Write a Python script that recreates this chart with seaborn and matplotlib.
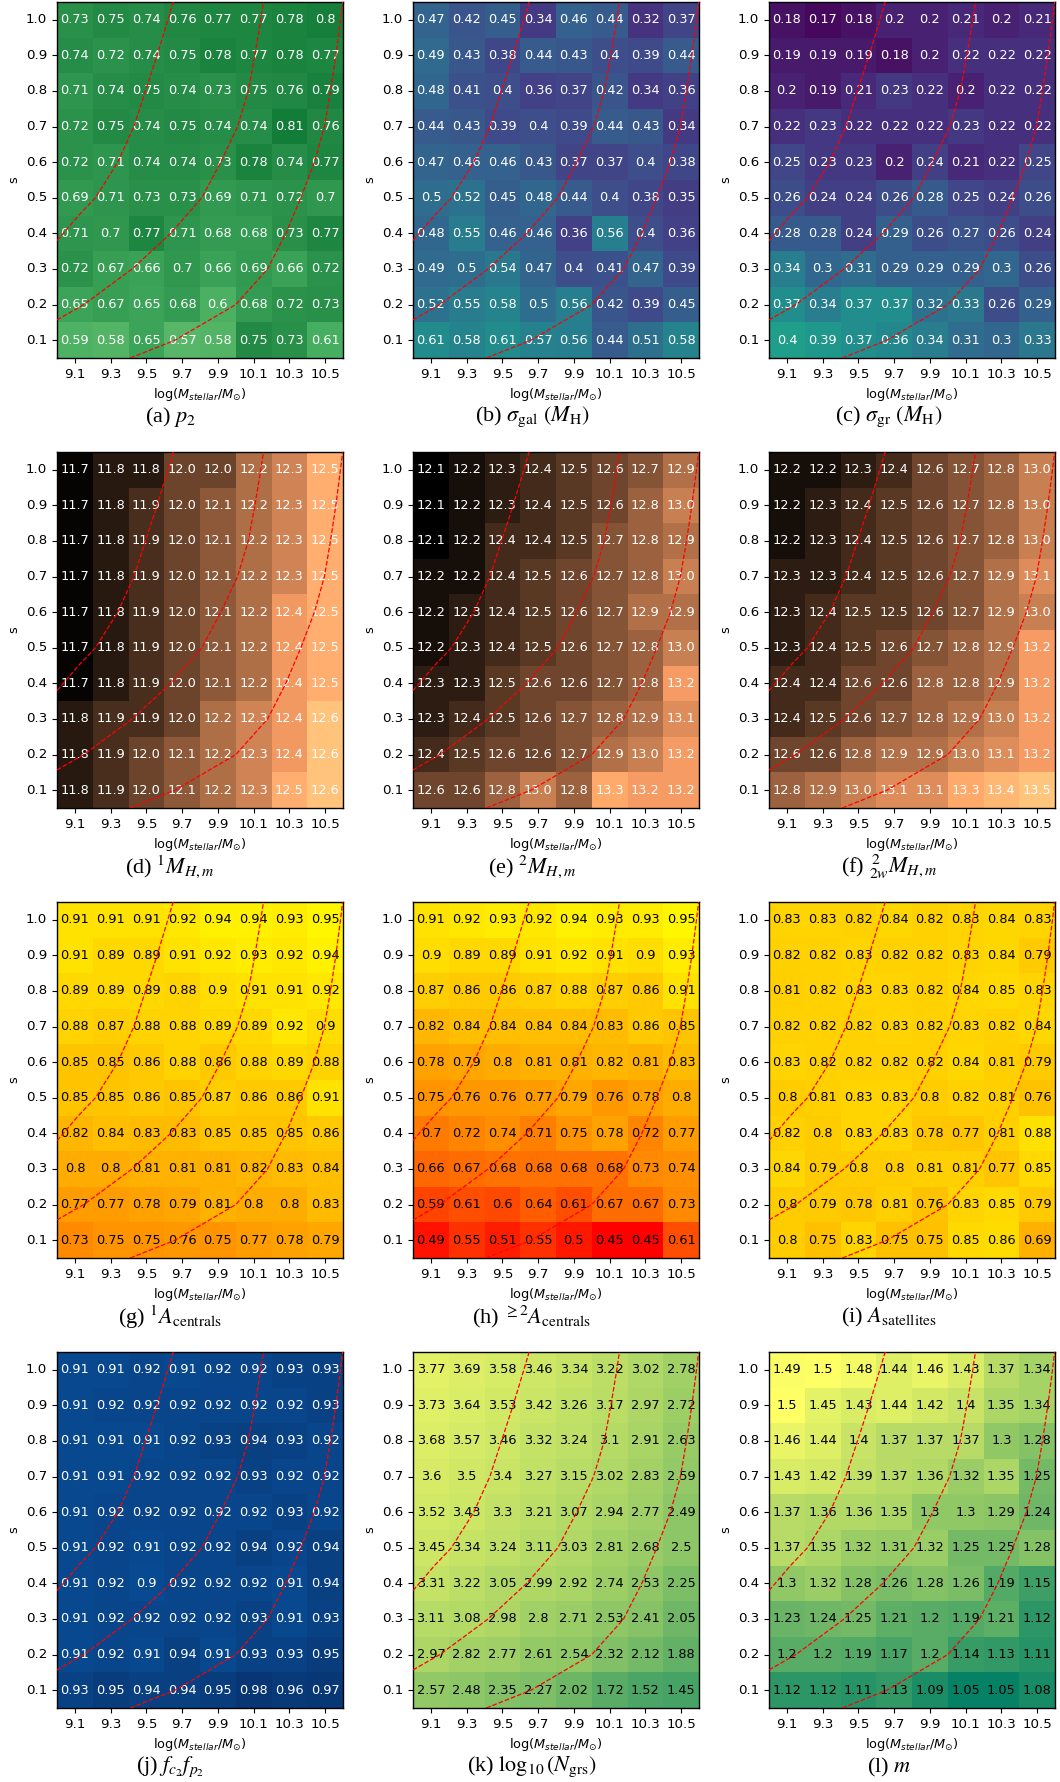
import matplotlib
matplotlib.use('Agg')
import matplotlib.pyplot as plt
import seaborn as sns
import pandas as pd
import numpy as np

mass_labels = ['9.1', '9.3', '9.5', '9.7', '9.9', '10.1', '10.3', '10.5']
s_labels = ['1.0', '0.9', '0.8', '0.7', '0.6', '0.5', '0.4', '0.3', '0.2', '0.1']

# rows go from s=1.0 (top) down to s=0.1
p2 = [
    [0.73, 0.75, 0.74, 0.76, 0.77, 0.77, 0.78, 0.8],
    [0.74, 0.72, 0.74, 0.75, 0.78, 0.77, 0.78, 0.77],
    [0.71, 0.74, 0.75, 0.74, 0.73, 0.75, 0.76, 0.79],
    [0.72, 0.75, 0.74, 0.75, 0.74, 0.74, 0.81, 0.76],
    [0.72, 0.71, 0.74, 0.74, 0.73, 0.78, 0.74, 0.77],
    [0.69, 0.71, 0.73, 0.73, 0.69, 0.71, 0.72, 0.7],
    [0.71, 0.7, 0.77, 0.71, 0.68, 0.68, 0.73, 0.77],
    [0.72, 0.67, 0.66, 0.7, 0.66, 0.69, 0.66, 0.72],
    [0.65, 0.67, 0.65, 0.68, 0.6, 0.68, 0.72, 0.73],
    [0.59, 0.58, 0.65, 0.57, 0.58, 0.75, 0.73, 0.61],
]
sigma_gal = [
    [0.47, 0.42, 0.45, 0.34, 0.46, 0.44, 0.32, 0.37],
    [0.49, 0.43, 0.38, 0.44, 0.43, 0.4, 0.39, 0.44],
    [0.48, 0.41, 0.4, 0.36, 0.37, 0.42, 0.34, 0.36],
    [0.44, 0.43, 0.39, 0.4, 0.39, 0.44, 0.43, 0.34],
    [0.47, 0.46, 0.46, 0.43, 0.37, 0.37, 0.4, 0.38],
    [0.5, 0.52, 0.45, 0.48, 0.44, 0.4, 0.38, 0.35],
    [0.48, 0.55, 0.46, 0.46, 0.36, 0.56, 0.4, 0.36],
    [0.49, 0.5, 0.54, 0.47, 0.4, 0.41, 0.47, 0.39],
    [0.52, 0.55, 0.58, 0.5, 0.56, 0.42, 0.39, 0.45],
    [0.61, 0.58, 0.61, 0.57, 0.56, 0.44, 0.51, 0.58],
]
sigma_gr = [
    [0.18, 0.17, 0.18, 0.2, 0.2, 0.21, 0.2, 0.21],
    [0.19, 0.19, 0.19, 0.18, 0.2, 0.22, 0.22, 0.22],
    [0.2, 0.19, 0.21, 0.23, 0.22, 0.2, 0.22, 0.22],
    [0.22, 0.23, 0.22, 0.22, 0.22, 0.23, 0.22, 0.22],
    [0.25, 0.23, 0.23, 0.2, 0.24, 0.21, 0.22, 0.25],
    [0.26, 0.24, 0.24, 0.26, 0.28, 0.25, 0.24, 0.26],
    [0.28, 0.28, 0.24, 0.29, 0.26, 0.27, 0.26, 0.24],
    [0.34, 0.3, 0.31, 0.29, 0.29, 0.29, 0.3, 0.26],
    [0.37, 0.34, 0.37, 0.37, 0.32, 0.33, 0.26, 0.29],
    [0.4, 0.39, 0.37, 0.36, 0.34, 0.31, 0.3, 0.33],
]
mh_1 = [
    [11.7, 11.8, 11.8, 12.0, 12.0, 12.2, 12.3, 12.5],
    [11.7, 11.8, 11.9, 12.0, 12.1, 12.2, 12.3, 12.5],
    [11.7, 11.8, 11.9, 12.0, 12.1, 12.2, 12.3, 12.5],
    [11.7, 11.8, 11.9, 12.0, 12.1, 12.2, 12.3, 12.5],
    [11.7, 11.8, 11.9, 12.0, 12.1, 12.2, 12.4, 12.5],
    [11.7, 11.8, 11.9, 12.0, 12.1, 12.2, 12.4, 12.5],
    [11.7, 11.8, 11.9, 12.0, 12.1, 12.2, 12.4, 12.5],
    [11.8, 11.9, 11.9, 12.0, 12.2, 12.3, 12.4, 12.6],
    [11.8, 11.9, 12.0, 12.1, 12.2, 12.3, 12.4, 12.6],
    [11.8, 11.9, 12.0, 12.1, 12.2, 12.3, 12.5, 12.6],
]
mh_2 = [
    [12.1, 12.2, 12.3, 12.4, 12.5, 12.6, 12.7, 12.9],
    [12.1, 12.2, 12.3, 12.4, 12.5, 12.6, 12.8, 13.0],
    [12.1, 12.2, 12.4, 12.4, 12.5, 12.7, 12.8, 12.9],
    [12.2, 12.2, 12.4, 12.5, 12.6, 12.7, 12.8, 13.0],
    [12.2, 12.3, 12.4, 12.5, 12.6, 12.7, 12.9, 12.9],
    [12.2, 12.3, 12.4, 12.5, 12.6, 12.7, 12.8, 13.0],
    [12.3, 12.3, 12.5, 12.6, 12.6, 12.7, 12.8, 13.2],
    [12.3, 12.4, 12.5, 12.6, 12.7, 12.8, 12.9, 13.1],
    [12.4, 12.5, 12.6, 12.6, 12.7, 12.9, 13.0, 13.2],
    [12.6, 12.6, 12.8, 13.0, 12.8, 13.3, 13.2, 13.2],
]
mh_2w = [
    [12.2, 12.2, 12.3, 12.4, 12.6, 12.7, 12.8, 13.0],
    [12.2, 12.3, 12.4, 12.5, 12.6, 12.7, 12.8, 13.0],
    [12.2, 12.3, 12.4, 12.5, 12.6, 12.7, 12.8, 13.0],
    [12.3, 12.3, 12.4, 12.5, 12.6, 12.7, 12.9, 13.1],
    [12.3, 12.4, 12.5, 12.5, 12.6, 12.7, 12.9, 13.0],
    [12.3, 12.4, 12.5, 12.6, 12.7, 12.8, 12.9, 13.2],
    [12.4, 12.4, 12.6, 12.6, 12.8, 12.8, 12.9, 13.2],
    [12.4, 12.5, 12.6, 12.7, 12.8, 12.9, 13.0, 13.2],
    [12.6, 12.6, 12.8, 12.9, 12.9, 13.0, 13.1, 13.2],
    [12.8, 12.9, 13.0, 13.1, 13.1, 13.3, 13.4, 13.5],
]
a_cen_1 = [
    [0.91, 0.91, 0.91, 0.92, 0.94, 0.94, 0.93, 0.95],
    [0.91, 0.89, 0.89, 0.91, 0.92, 0.93, 0.92, 0.94],
    [0.89, 0.89, 0.89, 0.88, 0.9, 0.91, 0.91, 0.92],
    [0.88, 0.87, 0.88, 0.88, 0.89, 0.89, 0.92, 0.9],
    [0.85, 0.85, 0.86, 0.88, 0.86, 0.88, 0.89, 0.88],
    [0.85, 0.85, 0.86, 0.85, 0.87, 0.86, 0.86, 0.91],
    [0.82, 0.84, 0.83, 0.83, 0.85, 0.85, 0.85, 0.86],
    [0.8, 0.8, 0.81, 0.81, 0.81, 0.82, 0.83, 0.84],
    [0.77, 0.77, 0.78, 0.79, 0.81, 0.8, 0.8, 0.83],
    [0.73, 0.75, 0.75, 0.76, 0.75, 0.77, 0.78, 0.79],
]
a_cen_2 = [
    [0.91, 0.92, 0.93, 0.92, 0.94, 0.93, 0.93, 0.95],
    [0.9, 0.89, 0.89, 0.91, 0.92, 0.91, 0.9, 0.93],
    [0.87, 0.86, 0.86, 0.87, 0.88, 0.87, 0.86, 0.91],
    [0.82, 0.84, 0.84, 0.84, 0.84, 0.83, 0.86, 0.85],
    [0.78, 0.79, 0.8, 0.81, 0.81, 0.82, 0.81, 0.83],
    [0.75, 0.76, 0.76, 0.77, 0.79, 0.76, 0.78, 0.8],
    [0.7, 0.72, 0.74, 0.71, 0.75, 0.78, 0.72, 0.77],
    [0.66, 0.67, 0.68, 0.68, 0.68, 0.68, 0.73, 0.74],
    [0.59, 0.61, 0.6, 0.64, 0.61, 0.67, 0.67, 0.73],
    [0.49, 0.55, 0.51, 0.55, 0.5, 0.45, 0.45, 0.61],
]
a_sat = [
    [0.83, 0.83, 0.82, 0.84, 0.82, 0.83, 0.84, 0.83],
    [0.82, 0.82, 0.83, 0.82, 0.82, 0.83, 0.84, 0.79],
    [0.81, 0.82, 0.83, 0.83, 0.82, 0.84, 0.85, 0.83],
    [0.82, 0.82, 0.82, 0.83, 0.82, 0.83, 0.82, 0.84],
    [0.83, 0.82, 0.82, 0.82, 0.82, 0.84, 0.81, 0.79],
    [0.8, 0.81, 0.83, 0.83, 0.8, 0.82, 0.81, 0.76],
    [0.82, 0.8, 0.83, 0.83, 0.78, 0.77, 0.81, 0.88],
    [0.84, 0.79, 0.8, 0.8, 0.81, 0.81, 0.77, 0.85],
    [0.8, 0.79, 0.78, 0.81, 0.76, 0.83, 0.85, 0.79],
    [0.8, 0.75, 0.83, 0.75, 0.75, 0.85, 0.86, 0.69],
]
fc_fp = [
    [0.91, 0.91, 0.92, 0.91, 0.92, 0.92, 0.93, 0.93],
    [0.91, 0.92, 0.92, 0.92, 0.92, 0.92, 0.92, 0.93],
    [0.91, 0.91, 0.91, 0.92, 0.93, 0.94, 0.93, 0.92],
    [0.91, 0.91, 0.92, 0.92, 0.92, 0.93, 0.92, 0.92],
    [0.91, 0.92, 0.92, 0.92, 0.92, 0.92, 0.93, 0.92],
    [0.91, 0.92, 0.91, 0.92, 0.92, 0.94, 0.92, 0.94],
    [0.91, 0.92, 0.9, 0.92, 0.92, 0.92, 0.91, 0.94],
    [0.91, 0.92, 0.92, 0.92, 0.92, 0.93, 0.91, 0.93],
    [0.91, 0.92, 0.91, 0.94, 0.91, 0.93, 0.93, 0.95],
    [0.93, 0.95, 0.94, 0.94, 0.95, 0.98, 0.96, 0.97],
]
log_ngrs = [
    [3.77, 3.69, 3.58, 3.46, 3.34, 3.22, 3.02, 2.78],
    [3.73, 3.64, 3.53, 3.42, 3.26, 3.17, 2.97, 2.72],
    [3.68, 3.57, 3.46, 3.32, 3.24, 3.1, 2.91, 2.63],
    [3.6, 3.5, 3.4, 3.27, 3.15, 3.02, 2.83, 2.59],
    [3.52, 3.43, 3.3, 3.21, 3.07, 2.94, 2.77, 2.49],
    [3.45, 3.34, 3.24, 3.11, 3.03, 2.81, 2.68, 2.5],
    [3.31, 3.22, 3.05, 2.99, 2.92, 2.74, 2.53, 2.25],
    [3.11, 3.08, 2.98, 2.8, 2.71, 2.53, 2.41, 2.05],
    [2.97, 2.82, 2.77, 2.61, 2.54, 2.32, 2.12, 1.88],
    [2.57, 2.48, 2.35, 2.27, 2.02, 1.72, 1.52, 1.45],
]
m_vals = [
    [1.49, 1.5, 1.48, 1.44, 1.46, 1.43, 1.37, 1.34],
    [1.5, 1.45, 1.43, 1.44, 1.42, 1.4, 1.35, 1.34],
    [1.46, 1.44, 1.4, 1.37, 1.37, 1.37, 1.3, 1.28],
    [1.43, 1.42, 1.39, 1.37, 1.36, 1.32, 1.35, 1.25],
    [1.37, 1.36, 1.36, 1.35, 1.3, 1.3, 1.29, 1.24],
    [1.37, 1.35, 1.32, 1.31, 1.32, 1.25, 1.25, 1.28],
    [1.3, 1.32, 1.28, 1.26, 1.28, 1.26, 1.19, 1.15],
    [1.23, 1.24, 1.25, 1.21, 1.2, 1.19, 1.21, 1.12],
    [1.2, 1.2, 1.19, 1.17, 1.2, 1.14, 1.13, 1.11],
    [1.12, 1.12, 1.11, 1.13, 1.09, 1.05, 1.05, 1.08],
]

# red dashed curves as (log M, s)
curve1_m = [9.0, 9.035, 9.12, 9.215, 9.34, 9.43, 9.495, 9.56, 9.62, 9.65]
curve1_s = [0.38, 0.40, 0.45, 0.50, 0.60, 0.70, 0.80, 0.90, 1.00, 1.05]
curve2_m = [9.0, 9.15, 9.42, 9.636, 9.81, 9.916, 10.01, 10.07, 10.107, 10.14, 10.155]
curve2_s = [0.157, 0.20, 0.30, 0.40, 0.50, 0.60, 0.70, 0.80, 0.90, 1.00, 1.05]
curve3_m = [9.41, 9.66, 10.0, 10.178, 10.28, 10.364, 10.44, 10.496, 10.53, 10.56, 10.586, 10.598]
curve3_s = [0.05, 0.10, 0.20, 0.30, 0.40, 0.50, 0.60, 0.70, 0.80, 0.90, 1.00, 1.05]
curves = [(curve1_m, curve1_s), (curve2_m, curve2_s), (curve3_m, curve3_s)]

# values, cmap, vmin, vmax, fmt, annotation colour, caption
panels = [
    (p2, 'Greens', 0.0, 1.0, 'g', 'white', r'(a) $p_2$'),
    (sigma_gal, 'viridis', 0.2, 1.05, 'g', 'white', r'(b) $\sigma_{\rm gal}$ $(M_{\rm H})$'),
    (sigma_gr, 'viridis', 0.16, 0.59, 'g', 'white', r'(c) $\sigma_{\rm gr}$ $(M_{\rm H})$'),
    (mh_1, 'copper', 11.68, 12.62, '.1f', 'white', r'(d) $^1M_{H,m}$'),
    (mh_2, 'copper', 12.1, 13.52, '.1f', 'white', r'(e) $^2M_{H,m}$'),
    (mh_2w, 'copper', 12.1, 13.52, '.1f', 'white', r'(f) ${}^{\,2}_{2w}M_{H,m}$'),
    (a_cen_1, 'autumn', 0.45, 0.97, 'g', 'black', r'(g) $^1A_{\rm centrals}$'),
    (a_cen_2, 'autumn', 0.45, 0.97, 'g', 'black', r'(h) $^{\geq 2}A_{\rm centrals}$'),
    (a_sat, 'autumn', 0.0, 1.0, 'g', 'black', r'(i) $A_{\rm satellites}$'),
    (fc_fp, 'Blues', 0.0, 1.0, 'g', 'white', r'(j) $f_{c_2}f_{p_2}$'),
    (log_ngrs, 'summer', 0.4, 4.2, 'g', 'black', r'(k) $\log_{10}(N_{\rm grs})$'),
    (m_vals, 'summer', 1.04, 1.5, 'g', 'black', r'(l) $m$'),
]

W, H = 1060, 1782
col_left = [57, 413, 769]
row_top = [2, 452, 902, 1352]
ax_w, ax_h = 286, 356
caption_x = [170, 532, 889]

fig = plt.figure(figsize=(W / 100, H / 100), dpi=100)

m_edges = (float(mass_labels[0]) - 0.1, float(mass_labels[-1]) + 0.1)
s_edges = (float(s_labels[-1]) - 0.05, float(s_labels[0]) + 0.05)

for i, (vals, cmap, vmin, vmax, fmt, tcol, caption) in enumerate(panels):
    r, c = divmod(i, 3)
    rect = [col_left[c] / W, 1 - (row_top[r] + ax_h) / H, ax_w / W, ax_h / H]
    ax = fig.add_axes(rect)
    df = pd.DataFrame(vals, index=s_labels, columns=mass_labels)
    sns.heatmap(df, ax=ax, cmap=cmap, vmin=vmin, vmax=vmax, annot=True, fmt=fmt,
                annot_kws={'size': 9.3, 'color': tcol}, cbar=False,
                xticklabels=mass_labels, yticklabels=s_labels)
    ax.set_xlabel(r'log($M_{stellar}/M_{\odot}$)', fontsize=9.3)
    ax.set_ylabel('s', fontsize=9.3)
    ax.tick_params(labelsize=9.6)
    plt.setp(ax.get_yticklabels(), rotation=0)
    plt.setp(ax.get_xticklabels(), rotation=0)
    for sp in ax.spines.values():
        sp.set_visible(True)
        sp.set_linewidth(1.0)

    # overlay in (log M, s) units for the dashed curves
    ov = fig.add_axes(rect, facecolor='none')
    ov.set_xlim(*m_edges)
    ov.set_ylim(*s_edges)
    ov.axis('off')
    for cm, cs in curves:
        ov.plot(cm, cs, color='red', ls='--', lw=0.9)

    fig.text(caption_x[c] / W, 1 - (row_top[r] + 415) / H, caption,
             ha='center', va='center', fontsize=16, family='Liberation Serif',
             math_fontfamily='stix')

fig.savefig('out.png', dpi=100)
